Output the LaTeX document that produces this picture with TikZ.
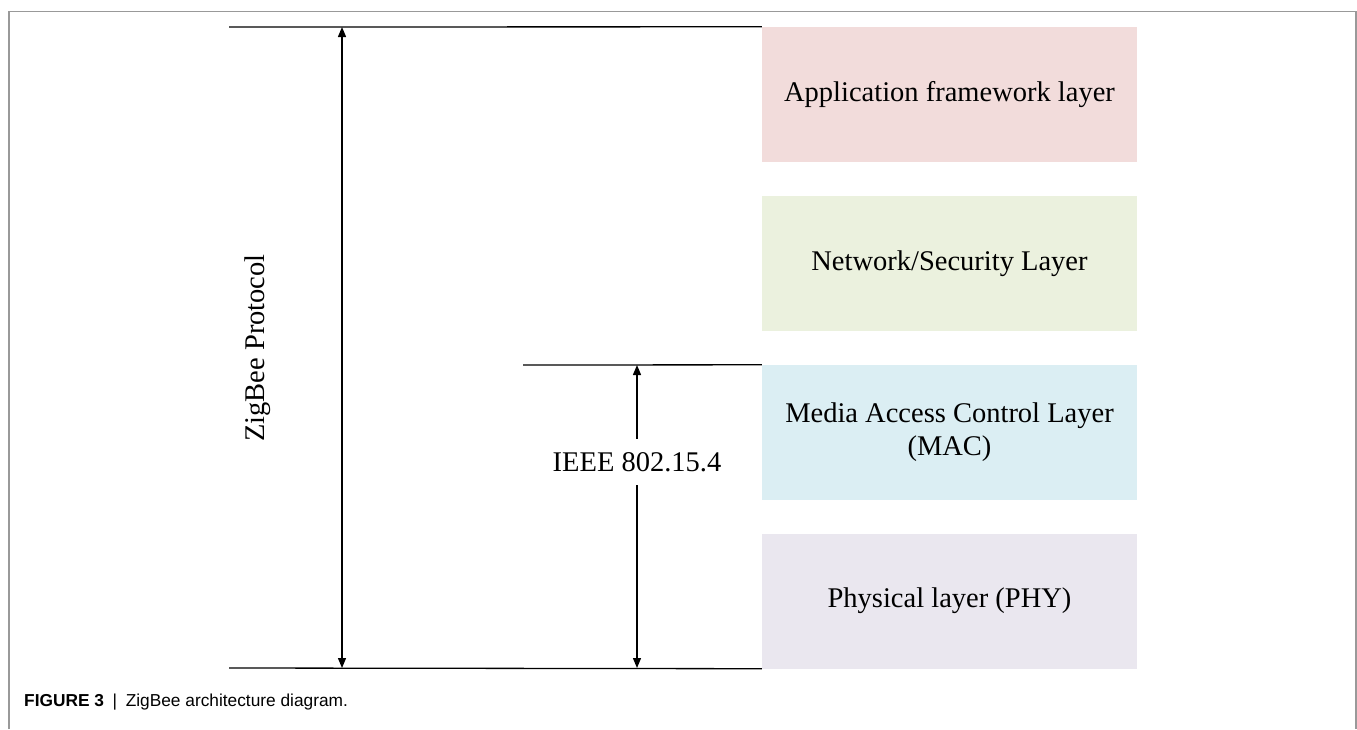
\documentclass[tikz,border=0pt]{standalone}
\usepackage{fontspec}
\setmainfont{Liberation Serif}
\newfontfamily\capfont{Liberation Sans}
\usetikzlibrary{arrows.meta}
\definecolor{cpink}{RGB}{242,220,219}
\definecolor{cgreen}{RGB}{235,241,222}
\definecolor{cblue}{RGB}{219,238,243}
\definecolor{cpurple}{RGB}{234,231,239}
\begin{document}
\begin{tikzpicture}[x=1pt,y=-1pt,
  big/.style={font=\fontsize{28.5}{33}\selectfont},
  layer/.style={big,draw=none,minimum width=375pt,minimum height=135pt,inner sep=0pt,align=center},
  rule/.style={line width=1.3pt},
  dim/.style={line width=1.3pt,-{Triangle[length=10pt,width=8pt]}},
  dimboth/.style={line width=1.3pt,{Triangle[length=10pt,width=8pt]}-{Triangle[length=10pt,width=8pt]}}]
\useasboundingbox (0,0) rectangle (1357,729);
\draw[gray!80,line width=1.5pt] (9,729) -- (9,11.5) -- (1356,11.5) -- (1356,729);
\node[layer,fill=cpink] (app) at (949.5,94.5) {Application framework layer};
\node[layer,fill=cgreen] (net) at (949.5,263.5) {Network/Security Layer};
\node[layer,fill=cblue] (mac) at (949.5,432.5) {Media Access Control Layer\\(MAC)};
\node[layer,fill=cpurple] (phy) at (949.5,601) {Physical layer (PHY)};
\coordinate (tl) at (229,27);
\coordinate (bl) at (229,668);
\coordinate (ml) at (523,365);
\draw[rule] (tl) -- (app.north west);
\draw[rule] (bl) -- (phy.south west);
\draw[rule] (ml) -- (mac.north west);
\coordinate (za) at (342,27);
\coordinate (zb) at (342,668);
\draw[dimboth] (za) -- (zb);
\coordinate (ia) at (637,365);
\coordinate (ib) at (637,668);
\node[big,inner sep=0pt,minimum height=46pt] (ieee) at (637,462) {IEEE 802.15.4};
\draw[dim] (ieee.north) -- (ia);
\draw[dim] (ieee.south) -- (ib);
\node[big,rotate=90] (zig) at (258,348) {ZigBee Protocol};
\node[anchor=west,inner sep=0pt,font=\capfont\fontsize{17.3}{20}\selectfont] (cap) at (24,702) {\textbf{FIGURE 3}\enspace|\enspace ZigBee architecture diagram.};
\end{tikzpicture}
\end{document}
